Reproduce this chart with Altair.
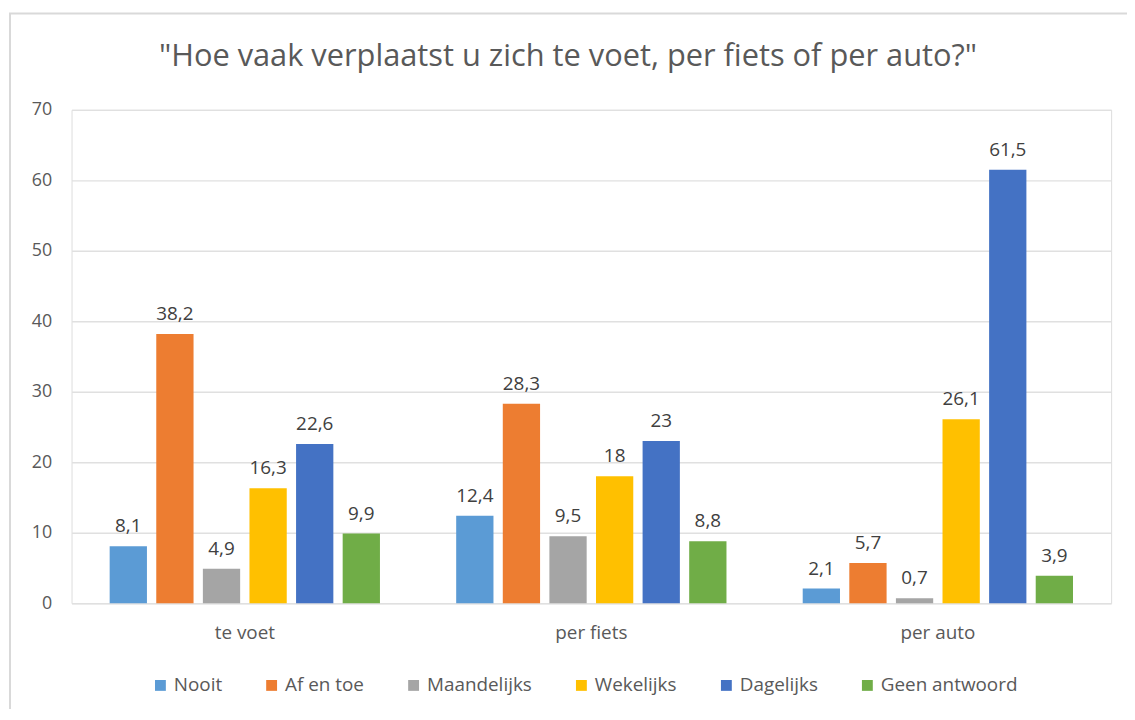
import altair as alt
import pandas as pd

title_text = '"Hoe vaak verplaatst u zich te voet, per fiets of per auto?"'
categories = ["te voet", "per fiets", "per auto"]
series = ["Nooit", "Af en toe", "Maandelijks", "Wekelijks", "Dagelijks", "Geen antwoord"]
colors = ["#5b9bd5", "#ed7d31", "#a5a5a5", "#ffc000", "#4472c4", "#70ad47"]
nooit = [8.1, 12.4, 2.1]
af_en_toe = [38.2, 28.3, 5.7]
maandelijks = [4.9, 9.5, 0.7]
wekelijks = [16.3, 18, 26.1]
dagelijks = [22.6, 23, 61.5]
geen_antwoord = [9.9, 8.8, 3.9]
y_ticks = [0, 10, 20, 30, 40, 50, 60, 70]

values = [nooit, af_en_toe, maandelijks, wekelijks, dagelijks, geen_antwoord]
rows = []
for s, vals in zip(series, values):
    for c, v in zip(categories, vals):
        rows.append({"cat": c, "series": s, "value": v,
                     "label": ("{:g}".format(v)).replace(".", ",")})
df = pd.DataFrame(rows)

FONT = "Open Sans"
GREY = "#595959"

x_enc = alt.X("cat:N", sort=categories, title=None,
              scale=alt.Scale(paddingInner=0.22, paddingOuter=0.11),
              axis=alt.Axis(labelAngle=0, labelFontSize=19, labelColor=GREY,
                            labelFont=FONT, ticks=False, domain=False,
                            labelPadding=21))
xoff = alt.XOffset("series:N", sort=series,
                   scale=alt.Scale(paddingInner=0.2, paddingOuter=0))
y_enc = alt.Y("value:Q", title=None,
              scale=alt.Scale(domain=[0, 70], nice=False),
              axis=alt.Axis(values=y_ticks, labelFontSize=18, labelColor=GREY,
                            labelFont=FONT, ticks=False, domain=False,
                            gridColor="#e0e0e0", gridWidth=1.3, labelPadding=20))

frame = alt.Chart(pd.DataFrame({"a": [0]})).mark_rect(
    fill="transparent", stroke="#d9d9d9", strokeWidth=2
).encode(x=alt.value(-62), x2=alt.value(1080), y=alt.value(-97), y2=alt.value(700))

title = alt.Chart(pd.DataFrame({"t": [title_text]})).mark_text(
    fontSize=31, font=FONT, color=GREY, baseline="middle", align="center"
).encode(x=alt.value(500), y=alt.value(-53), text="t:N")

bars = alt.Chart(df).mark_bar().encode(
    x=x_enc, xOffset=xoff, y=y_enc,
    color=alt.Color("series:N", sort=series,
                    scale=alt.Scale(domain=series, range=colors),
                    legend=alt.Legend(title=None, orient="none", direction="horizontal",
                                      legendX=80, legendY=570, symbolType="square",
                                      symbolSize=120, labelFontSize=19,
                                      labelColor=GREY, labelFont=FONT,
                                      columnPadding=40, symbolStrokeWidth=0)),
)

labels = alt.Chart(df).mark_text(
    baseline="bottom", dy=-10, fontSize=19, color="#404040", font=FONT
).encode(x=alt.X("cat:N", sort=categories), xOffset=alt.XOffset("series:N", sort=series),
         y="value:Q", text="label:N")

chart = alt.layer(frame, title, bars, labels).properties(
    width=1047, height=497,
    autosize=alt.AutoSizeParams(type="none"),
    padding={"left": 64, "top": 100, "right": 16, "bottom": 104},
).configure_view(stroke=None).configure(background="white")

chart.save("out.html", embed_options={"renderer": "svg", "actions": False})
